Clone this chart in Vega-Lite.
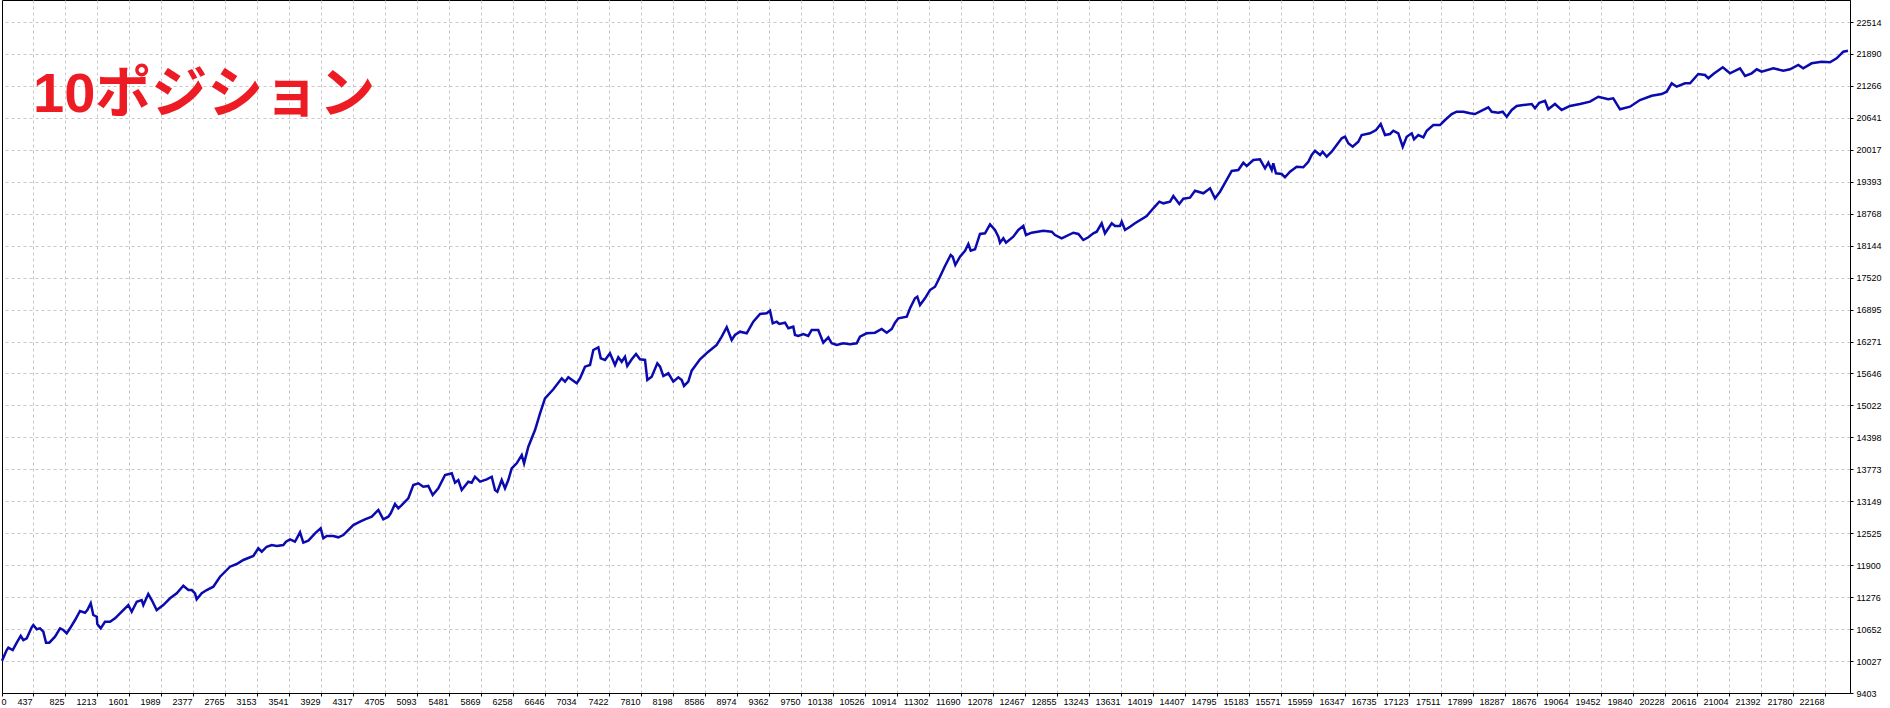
{
 "$schema": "https://vega.github.io/schema/vega-lite/v6.json",
 "width": 1848,
 "height": 693,
 "autosize": {"type": "none"},
 "padding": {"left": 2, "top": 0, "right": 40, "bottom": 15},
 "background": "white",
 "title": {"text": "10ポジション", "anchor": "start", "frame": "group", "orient": "top", "color": "#ED1C24", "font": "Liberation Sans, Noto Sans CJK JP", "fontSize": 56, "fontWeight": "bold", "baseline": "top", "offset": 4, "dx": 31, "dy": 128},
 "data": {"values": [
{"t":61,"b":10034},{"t":118,"b":10243},{"t":138,"b":10288},{"t":191,"b":10243},{"t":240,"b":10386},{"t":288,"b":10517},{"t":320,"b":10438},{"t":361,"b":10472},{"t":421,"b":10687},{"t":441,"b":10731},{"t":482,"b":10648},{"t":522,"b":10667},{"t":562,"b":10601},{"t":595,"b":10386},{"t":635,"b":10386},{"t":704,"b":10503},{"t":765,"b":10667},{"t":805,"b":10634},{"t":846,"b":10569},{"t":886,"b":10667},{"t":947,"b":10829},{"t":1007,"b":11005},{"t":1068,"b":10972},{"t":1096,"b":11025},{"t":1137,"b":11156},{"t":1168,"b":10927},{"t":1210,"b":10894},{"t":1217,"b":10751},{"t":1258,"b":10667},{"t":1310,"b":10796},{"t":1371,"b":10796},{"t":1432,"b":10862},{"t":1492,"b":10960},{"t":1593,"b":11122},{"t":1634,"b":10991},{"t":1695,"b":11187},{"t":1755,"b":11220},{"t":1775,"b":11122},{"t":1835,"b":11337},{"t":1877,"b":11220},{"t":1937,"b":11025},{"t":2017,"b":11122},{"t":2099,"b":11253},{"t":2180,"b":11351},{"t":2260,"b":11499},{"t":2321,"b":11415},{"t":2362,"b":11415},{"t":2402,"b":11351},{"t":2422,"b":11234},{"t":2483,"b":11351},{"t":2544,"b":11415},{"t":2624,"b":11480},{"t":2705,"b":11675},{"t":2826,"b":11871},{"t":2907,"b":11923},{"t":2988,"b":12002},{"t":3109,"b":12080},{"t":3169,"b":12230},{"t":3211,"b":12164},{"t":3271,"b":12261},{"t":3332,"b":12295},{"t":3393,"b":12275},{"t":3473,"b":12295},{"t":3505,"b":12359},{"t":3554,"b":12406},{"t":3614,"b":12359},{"t":3675,"b":12543},{"t":3715,"b":12340},{"t":3776,"b":12379},{"t":3857,"b":12523},{"t":3926,"b":12621},{"t":3958,"b":12426},{"t":3999,"b":12471},{"t":4079,"b":12471},{"t":4140,"b":12445},{"t":4200,"b":12490},{"t":4281,"b":12621},{"t":4322,"b":12685},{"t":4403,"b":12750},{"t":4463,"b":12797},{"t":4545,"b":12848},{"t":4625,"b":12979},{"t":4685,"b":12797},{"t":4746,"b":12848},{"t":4775,"b":12914},{"t":4827,"b":13096},{"t":4867,"b":13012},
{"t":4908,"b":13076},{"t":4988,"b":13207},{"t":5049,"b":13467},{"t":5110,"b":13500},{"t":5170,"b":13434},{"t":5231,"b":13448},{"t":5284,"b":13272},{"t":5352,"b":13403},{"t":5434,"b":13662},{"t":5515,"b":13696},{"t":5555,"b":13512},{"t":5595,"b":13565},{"t":5636,"b":13369},{"t":5716,"b":13532},{"t":5757,"b":13512},{"t":5797,"b":13629},{"t":5858,"b":13532},{"t":5939,"b":13578},{"t":6000,"b":13629},{"t":6040,"b":13369},{"t":6068,"b":13336},{"t":6121,"b":13565},{"t":6161,"b":13403},{"t":6201,"b":13565},{"t":6242,"b":13793},{"t":6303,"b":13891},{"t":6364,"b":14053},{"t":6392,"b":13891},{"t":6444,"b":14215},{"t":6525,"b":14542},{"t":6586,"b":14868},{"t":6646,"b":15161},{"t":6747,"b":15337},{"t":6849,"b":15552},{"t":6889,"b":15486},{"t":6929,"b":15572},{"t":7031,"b":15454},{"t":7071,"b":15552},{"t":7131,"b":15779},{"t":7192,"b":15812},{"t":7232,"b":16105},{"t":7293,"b":16158},{"t":7322,"b":15943},{"t":7374,"b":15910},{"t":7434,"b":16041},{"t":7495,"b":15812},{"t":7535,"b":15962},{"t":7576,"b":15876},{"t":7616,"b":15974},{"t":7644,"b":15792},{"t":7698,"b":15923},{"t":7750,"b":16027},{"t":7798,"b":15923},{"t":7859,"b":15910},{"t":7887,"b":15519},{"t":7940,"b":15583},{"t":8008,"b":15845},{"t":8041,"b":15779},{"t":8081,"b":15597},{"t":8142,"b":15650},{"t":8202,"b":15486},{"t":8263,"b":15572},{"t":8304,"b":15519},{"t":8332,"b":15402},{"t":8384,"b":15486},{"t":8425,"b":15701},{"t":8526,"b":15923},{"t":8627,"b":16072},{"t":8728,"b":16203},{"t":8789,"b":16365},{"t":8850,"b":16549},{"t":8910,"b":16300},{"t":8950,"b":16398},{"t":9011,"b":16463},{"t":9092,"b":16431},{"t":9172,"b":16658},{"t":9254,"b":16808},{"t":9335,"b":16822},{"t":9375,"b":16873},{"t":9408,"b":16627},{"t":9456,"b":16658},{"t":9488,"b":16613},
{"t":9557,"b":16639},{"t":9597,"b":16529},{"t":9657,"b":16560},{"t":9678,"b":16398},{"t":9718,"b":16379},{"t":9779,"b":16418},{"t":9839,"b":16379},{"t":9880,"b":16496},{"t":9960,"b":16496},{"t":10021,"b":16248},{"t":10082,"b":16353},{"t":10123,"b":16236},{"t":10184,"b":16203},{"t":10264,"b":16236},{"t":10345,"b":16216},{"t":10426,"b":16236},{"t":10466,"b":16365},{"t":10547,"b":16431},{"t":10648,"b":16443},{"t":10729,"b":16515},{"t":10790,"b":16443},{"t":10851,"b":16515},{"t":10891,"b":16639},{"t":10931,"b":16724},{"t":11033,"b":16756},{"t":11073,"b":16920},{"t":11133,"b":17115},{"t":11161,"b":17147},{"t":11194,"b":16984},{"t":11254,"b":17115},{"t":11315,"b":17277},{"t":11376,"b":17342},{"t":11436,"b":17537},{"t":11497,"b":17746},{"t":11566,"b":17961},{"t":11590,"b":17928},{"t":11622,"b":17766},{"t":11679,"b":17928},{"t":11740,"b":18045},{"t":11780,"b":18176},{"t":11809,"b":18045},{"t":11861,"b":18073},{"t":11921,"b":18372},{"t":11982,"b":18385},{"t":12043,"b":18561},{"t":12103,"b":18450},{"t":12144,"b":18319},{"t":12164,"b":18202},{"t":12204,"b":18288},{"t":12237,"b":18202},{"t":12325,"b":18319},{"t":12386,"b":18450},{"t":12447,"b":18528},{"t":12479,"b":18352},{"t":12548,"b":18397},{"t":12689,"b":18436},{"t":12791,"b":18417},{"t":12831,"b":18352},{"t":12912,"b":18288},{"t":13053,"b":18397},{"t":13114,"b":18372},{"t":13174,"b":18254},{"t":13235,"b":18307},{"t":13296,"b":18385},{"t":13337,"b":18417},{"t":13397,"b":18581},{"t":13437,"b":18385},{"t":13519,"b":18581},{"t":13559,"b":18528},{"t":13619,"b":18528},{"t":13640,"b":18612},{"t":13680,"b":18450},{"t":13741,"b":18514},{"t":13801,"b":18581},{"t":13943,"b":18723},{"t":14023,"b":18874},{"t":14096,"b":19003},
{"t":14145,"b":18971},{"t":14226,"b":19003},{"t":14266,"b":19114},{"t":14338,"b":18958},{"t":14387,"b":19061},{"t":14468,"b":19081},{"t":14529,"b":19218},{"t":14630,"b":19167},{"t":14711,"b":19265},{"t":14771,"b":19069},{"t":14832,"b":19198},{"t":14913,"b":19427},{"t":14974,"b":19603},{"t":15054,"b":19622},{"t":15115,"b":19765},{"t":15156,"b":19700},{"t":15236,"b":19818},{"t":15317,"b":19831},{"t":15378,"b":19655},{"t":15418,"b":19765},{"t":15459,"b":19622},{"t":15478,"b":19753},{"t":15511,"b":19558},{"t":15580,"b":19544},{"t":15620,"b":19480},{"t":15681,"b":19589},{"t":15762,"b":19687},{"t":15842,"b":19675},{"t":15903,"b":19784},{"t":15944,"b":19915},{"t":15984,"b":19999},{"t":16045,"b":19915},{"t":16077,"b":19980},{"t":16126,"b":19882},{"t":16186,"b":19980},{"t":16247,"b":20111},{"t":16308,"b":20242},{"t":16348,"b":20273},{"t":16388,"b":20144},{"t":16441,"b":20077},{"t":16509,"b":20175},{"t":16550,"b":20306},{"t":16651,"b":20339},{"t":16724,"b":20404},{"t":16781,"b":20521},{"t":16833,"b":20306},{"t":16894,"b":20326},{"t":16934,"b":20390},{"t":16994,"b":20339},{"t":17048,"b":20077},{"t":17096,"b":20273},{"t":17157,"b":20339},{"t":17185,"b":20222},{"t":17237,"b":20306},{"t":17298,"b":20261},{"t":17339,"b":20390},{"t":17419,"b":20501},{"t":17500,"b":20501},{"t":17561,"b":20599},{"t":17642,"b":20716},{"t":17702,"b":20761},{"t":17783,"b":20761},{"t":17864,"b":20730},{"t":17924,"b":20716},{"t":18005,"b":20781},{"t":18086,"b":20847},{"t":18127,"b":20761},{"t":18207,"b":20742},{"t":18260,"b":20761},{"t":18309,"b":20664},{"t":18370,"b":20795},{"t":18430,"b":20873},{"t":18510,"b":20892},{"t":18612,"b":20912},{"t":18652,"b":20828},{"t":18704,"b":20937},
{"t":18773,"b":20976},{"t":18813,"b":20808},{"t":18894,"b":20912},{"t":18975,"b":20795},{"t":19076,"b":20873},{"t":19198,"b":20912},{"t":19319,"b":20957},{"t":19420,"b":21054},{"t":19540,"b":21004},{"t":19601,"b":21023},{"t":19683,"b":20808},{"t":19804,"b":20859},{"t":19925,"b":20990},{"t":20067,"b":21074},{"t":20188,"b":21107},{"t":20249,"b":21152},{"t":20310,"b":21316},{"t":20370,"b":21250},{"t":20471,"b":21316},{"t":20532,"b":21316},{"t":20632,"b":21498},{"t":20714,"b":21478},{"t":20754,"b":21414},{"t":20815,"b":21498},{"t":20929,"b":21629},{"t":21017,"b":21512},{"t":21138,"b":21609},{"t":21199,"b":21459},{"t":21280,"b":21512},{"t":21341,"b":21590},{"t":21401,"b":21543},{"t":21542,"b":21609},{"t":21663,"b":21563},{"t":21744,"b":21590},{"t":21845,"b":21674},{"t":21905,"b":21609},{"t":22007,"b":21707},{"t":22128,"b":21738},{"t":22229,"b":21727},{"t":22310,"b":21805},{"t":22391,"b":21934},{"t":22447,"b":21953}
 ]},
 "mark": {"type": "line", "color": "#0A0AAF", "strokeWidth": 2.5, "interpolate": "linear"},
 "encoding": {
  "x": {"field": "t", "type": "quantitative",
   "scale": {"domain": [61, 22472], "nice": false, "zero": false},
   "axis": {"orient": "bottom", "title": null, "format": "d",
    "values": [61,437,825,1213,1601,1989,2377,2765,3153,3541,3929,4317,4705,5093,5481,5869,6258,6646,7034,7422,7810,8198,8586,8974,9362,9750,10138,10526,10914,11302,11690,12078,12467,12855,13243,13631,14019,14407,14795,15183,15571,15959,16347,16735,17123,17511,17899,18287,18676,19064,19452,19840,20228,20616,21004,21392,21780,22168],
    "labelExpr": "datum.value < 100 ? '0' : datum.label",
    "labelAlign": {"condition": {"test": "datum.value < 100", "value": "left"}, "value": "right"},
    "gridOpacity": {"condition": {"test": "datum.value < 100", "value": 0}, "value": 1},
    "labelOffset": -1, "labelFlush": false, "labelOverlap": false, "labelBound": false,
    "labelBaseline": "top", "labelPadding": 1, "tickSize": 3}},
  "y": {"field": "b", "type": "quantitative",
   "scale": {"domain": [9403, 22944], "nice": false, "zero": false},
   "axis": {"orient": "right", "title": null, "format": "d",
    "values": [9403,10027,10652,11276,11900,12525,13149,13773,14398,15022,15646,16271,16895,17520,18144,18768,19393,20017,20641,21266,21890,22514],
    "labelAlign": "left", "labelBaseline": "middle", "labelFlush": false, "labelOverlap": false, "labelBound": false,
    "labelPadding": 3, "tickSize": 3}}
 },
 "config": {
  "view": {"stroke": "#000000", "strokeWidth": 1},
  "axis": {"domainColor": "#000000", "domainWidth": 1, "tickColor": "#000000", "tickWidth": 1,
   "labelColor": "#000000", "labelFont": "Liberation Sans", "labelFontSize": 9,
   "grid": true, "gridColor": "#C8C8C8", "gridDash": [3, 3], "gridWidth": 1}
 }
}
